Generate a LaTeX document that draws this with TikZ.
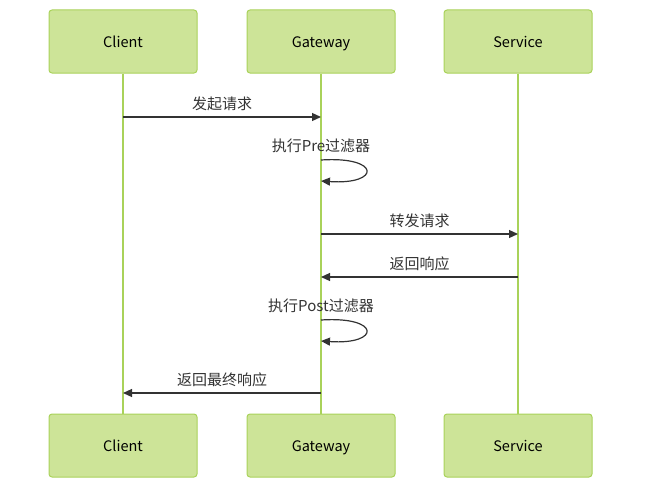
\documentclass[tikz,border=0pt]{standalone}
\usepackage{fontspec}
\setmainfont{Noto Sans CJK SC}
\usepackage{tikz}
\usetikzlibrary{arrows.meta,%
                shapes,positioning}
\definecolor{actfill}{HTML}{CDE498}
\definecolor{actline}{HTML}{A9D25A}
\definecolor{msgline}{HTML}{333333}

\begin{document}
\begin{tikzpicture}[x=1pt,y=-1pt,
  actor/.style={draw=actline, fill=actfill, rounded corners=3pt, line width=1pt,
                minimum width=148pt, minimum height=63pt, text height=14pt, text depth=2pt,
                font=\fontsize{14.5}{16}\selectfont},
  life/.style={draw=actline, line width=2pt},
  msg/.style={draw=msgline, line width=1.2pt, -{Triangle[length=9pt,width=8pt]}},
  lbl/.style={text=msgline, font=\fontsize{15}{17}\selectfont, inner sep=2pt}]
\useasboundingbox (0,0) rectangle (650,495);
%\fill[white] (0,0) rectangle (650,495);
% actors
\node[actor] (c1) at (123,41.5) {Client};
\node[actor] (g1) at (321,41.5) {Gateway};
\node[actor] (s1) at (518,41.5) {Service};
\node[actor] (c2) at (123,445.5) {Client};
\node[actor] (g2) at (321,445.5) {Gateway};
\node[actor] (s2) at (518,445.5) {Service};
% lifelines
\draw[life] (c1) -- (c2);
\draw[life] (g1) -- (g2);
\draw[life] (s1) -- (s2);
% message ends
\coordinate (cReq) at (123,117);
\coordinate (gReq) at (321,117);
\coordinate (gPreA) at (321,160);
\coordinate (gPreB) at (321,181);
\coordinate (gFwd) at (321,234);
\coordinate (sFwd) at (518,234);
\coordinate (sRes) at (518,277);
\coordinate (gRes) at (321,277);
\coordinate (gPostA) at (321,320);
\coordinate (gPostB) at (321,341);
\coordinate (gEnd) at (321,393);
\coordinate (cEnd) at (123,393);
% messages
\draw[msg] (cReq) -- node[lbl, above=4pt] (m1) {发起请求} (gReq);
\node[lbl] (m2) at (321,146) {执行Pre过滤器};
\draw[msg] (gPreA) .. controls +(60,-4) and +(60,4) .. (gPreB);
\draw[msg] (gFwd) -- node[lbl, above=4pt] (m3) {转发请求} (sFwd);
\draw[msg] (sRes) -- node[lbl, above=4pt] (m4) {返回响应} (gRes);
\node[lbl] (m5) at (321,306) {执行Post过滤器};
\draw[msg] (gPostA) .. controls +(60,-4) and +(60,4) .. (gPostB);
\draw[msg] (gEnd) -- node[lbl, above=4pt] (m6) {返回最终响应} (cEnd);
\end{tikzpicture}
\end{document}
